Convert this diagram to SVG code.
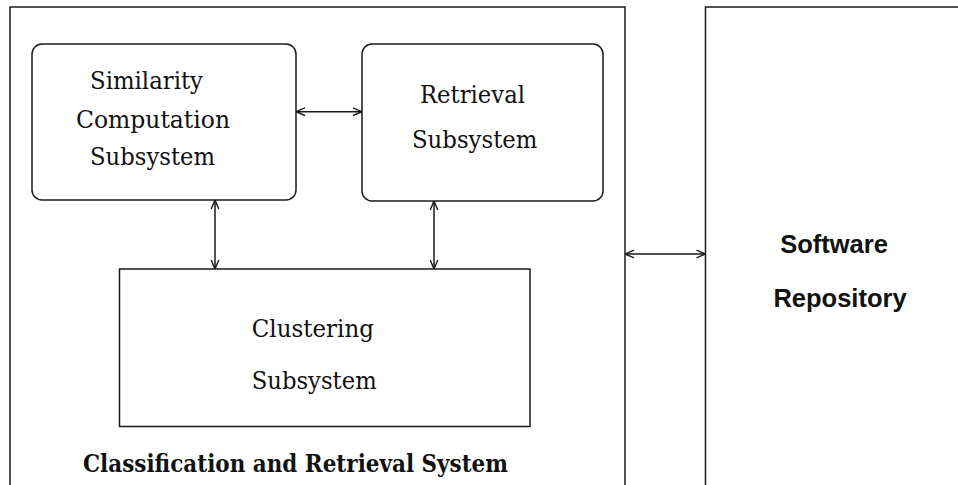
<svg xmlns="http://www.w3.org/2000/svg" width="958" height="485" viewBox="0 0 958 485">
<style>
.box{fill:none;stroke:#1a1a1a;stroke-width:1.5}
.lbl{font-family:"DejaVu Serif","Liberation Serif",serif;font-size:23.5px;fill:#111}
.title{font-family:"DejaVu Serif","Liberation Serif",serif;font-weight:bold;font-size:24px;fill:#111}
.sans{font-family:"Liberation Sans",Arial,sans-serif;font-weight:bold;font-size:25.5px;fill:#111;text-anchor:middle}
.conn{stroke:#1a1a1a;stroke-width:1.5;fill:none;marker-start:url(#ah);marker-end:url(#ah)}
</style>
<defs>
<marker id="ah" viewBox="0 0 10 10" refX="10" refY="5" markerWidth="10" markerHeight="10" markerUnits="userSpaceOnUse" orient="auto-start-reverse">
<path d="M1,1.2 L10,5 L1,8.8" fill="none" stroke="#1a1a1a" stroke-width="1.4"/>
</marker>
</defs>
<rect width="958" height="485" fill="#fff"/>
<g id="crs">
<rect class="box" x="10" y="7" width="615" height="490"/>
<text class="title" x="83" y="472" textLength="425" lengthAdjust="spacingAndGlyphs">Classification and Retrieval System</text>
</g>
<g id="similarity">
<rect class="box" x="32" y="44" width="264" height="156" rx="10" ry="10"/>
<text class="lbl" x="90" y="89" textLength="113" lengthAdjust="spacingAndGlyphs">Similarity</text>
<text class="lbl" x="76" y="128" textLength="154" lengthAdjust="spacingAndGlyphs">Computation</text>
<text class="lbl" x="90" y="165" textLength="125" lengthAdjust="spacingAndGlyphs">Subsystem</text>
</g>
<g id="retrieval">
<rect class="box" x="362" y="44" width="241" height="157" rx="10" ry="10"/>
<text class="lbl" x="420" y="103" textLength="105" lengthAdjust="spacingAndGlyphs">Retrieval</text>
<text class="lbl" x="412" y="148" textLength="125.5" lengthAdjust="spacingAndGlyphs">Subsystem</text>
</g>
<g id="clustering">
<rect class="box" x="119.5" y="269" width="410.5" height="157.5"/>
<text class="lbl" x="251.7" y="337" textLength="122.3" lengthAdjust="spacingAndGlyphs">Clustering</text>
<text class="lbl" x="251.7" y="389" textLength="125" lengthAdjust="spacingAndGlyphs">Subsystem</text>
</g>
<g id="repository">
<path class="box" d="M970,7 H705.5 V497"/>
<text class="sans" x="834" y="253">Software</text>
<text class="sans" x="840" y="307">Repository</text>
</g>
<g id="connectors">
<line class="conn" x1="296" y1="111.7" x2="362" y2="111.7"/>
<line class="conn" x1="215" y1="200" x2="215" y2="269"/>
<line class="conn" x1="434" y1="201" x2="434" y2="269"/>
<line class="conn" x1="625" y1="254" x2="705.5" y2="254"/>
</g>
</svg>
